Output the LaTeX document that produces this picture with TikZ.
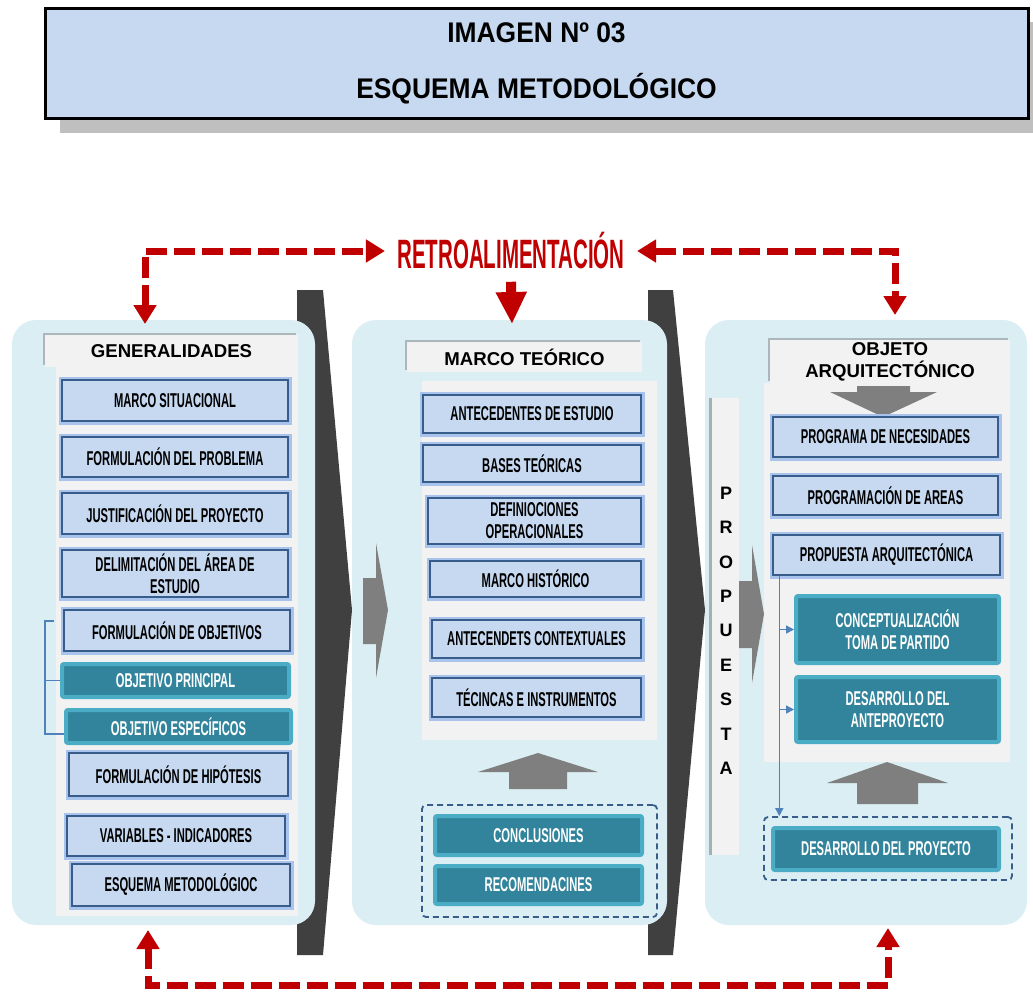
\documentclass[tikz,border=0pt]{standalone}
\usepackage{fontspec}
\setmainfont{Liberation Sans}
\newfontfamily\agencyfont[FakeStretch=0.56]{Liberation Sans}
\newfontfamily\narrowfont[FakeStretch=0.93]{Liberation Sans}
\newfontfamily\retrofont[FakeStretch=0.5]{Liberation Sans}
\usepackage{tikz}
\usetikzlibrary{positioning}
\usetikzlibrary{calc,arrows.meta,shadows}

\definecolor{panelblue}{HTML}{DAEEF3}
\definecolor{colgray}{HTML}{F2F2F2}
\definecolor{boxfill}{HTML}{C6D9F1}
\definecolor{boxline}{HTML}{385D8A}
\definecolor{glow}{HTML}{A8C4EC}
\definecolor{tealfill}{HTML}{31849B}
\definecolor{tealline}{HTML}{4BACC6}
\definecolor{retrored}{HTML}{C00000}
\definecolor{wedgegray}{HTML}{404040}
\definecolor{arrowgray}{HTML}{7F7F7F}
\definecolor{linkblue}{HTML}{4F81BD}
\definecolor{shadowgray}{HTML}{BFBFBF}

\tikzset{
  wh/.style 2 args={minimum width=#1*0.5pt, minimum height=#2*0.5pt, inner sep=0pt},
  panel/.style={fill=panelblue, rounded corners=12pt},
  heading/.style={fill=colgray, align=center,
    font=\bfseries\fontsize{9.3}{11}\selectfont,
    drop shadow={shadow xshift=-1.2pt, shadow yshift=1.2pt, fill=black!60, opacity=0.4}},
  stage/.style={draw=boxline, fill=boxfill, line width=0.7pt,
    preaction={draw=glow, line width=3.5pt}, align=center,
    font=\agencyfont\bfseries\fontsize{10}{11}\selectfont},
  result/.style={draw=tealline, fill=tealfill, line width=2pt, rounded corners=1pt,
    text=white, align=center, font=\agencyfont\bfseries\fontsize{10}{11}\selectfont},
  group/.style={draw=boxline, line width=0.9pt, dash pattern=on 3pt off 2pt, rounded corners=2pt},
  fb/.style={draw=retrored, line width=3.5pt, dash pattern=on 10.5pt off 3.5pt,
    {Triangle[width=11pt,length=9.5pt]}-{Triangle[width=11pt,length=9.5pt]}},
  fbsolid/.style={draw=retrored, line width=5pt, -{Triangle[width=14.5pt,length=16pt]}},
  link/.style={draw=linkblue, line width=0.7pt, -{Triangle[width=4pt,length=4pt]}},
  brk/.style={draw=linkblue, line width=0.7pt},
}

\begin{document}
\begin{tikzpicture}[x=0.5pt, y=-0.5pt]
	\useasboundingbox (0,0) rectangle (1033,991);

	%Title
	\fill[shadowgray] (60,22) rectangle (1033,133);
	\node[wh={983}{110}, draw=black, line width=1.5pt, fill=boxfill, align=center,
	      font=\narrowfont\bfseries\fontsize{14.2}{28}\selectfont] (title) at (536.5,63)
	      {IMAGEN Nº 03\\ESQUEMA METODOLÓGICO};

	%Wedges
	\fill[wedgegray] (297,290) -- (323,290) -- (352,610) -- (323,955) -- (297,955) -- cycle;
	\fill[wedgegray] (648,290) -- (673,290) -- (705,610) -- (673,955) -- (648,955) -- cycle;

	%Panels
	\node[panel, wh={303}{605}] (pGen) at (163.5,622.5) {};
	\node[panel, wh={315}{605}] (pMar) at (509.5,622.5) {};
	\node[panel, wh={322}{605}] (pObj) at (866,622.5) {};

	\fill[colgray] (56,367) rectangle (298,916);
	\fill[colgray] (422,381) rectangle (657,740);
	\fill[colgray] (764,383) rectangle (1010,762);

	%Headings
	\node[heading, wh={253}{32}] (hGen) at (171.5,351) {GENERALIDADES};
	\node[heading, wh={235}{30}] (hMar) at (524.5,357) {MARCO TEÓRICO};
	\node[heading, wh={240}{43}] (hObj) at (890,361.5) {OBJETO\\ARQUITECTÓNICO};

	%Gray arrows
	\fill[arrowgray] (363,578) -- (376,578) -- (376,543) -- (388,610) -- (376,678)
	  -- (376,644) -- (363,644) -- cycle;
	\fill[arrowgray] (739,581) -- (752,581) -- (752,545) -- (764,614) -- (752,683)
	  -- (752,648) -- (739,648) -- cycle;
	\fill[arrowgray] (509,789) -- (509,772) -- (478,772) -- (538,753) -- (598,772)
	  -- (567,772) -- (567,789) -- cycle;
	\fill[arrowgray] (857,804) -- (857,783) -- (827,783) -- (887,762) -- (948,783)
	  -- (918,783) -- (918,804) -- cycle;
	\fill[arrowgray] (857,386) -- (910,386) -- (910,392) -- (937,392) -- (883,417)
	  -- (830,392) -- (857,392) -- cycle;

	%Propuesta
	\node[wh={27}{457}, fill=colgray,
	      drop shadow={shadow xshift=-1.5pt, shadow yshift=0pt, fill=black!60, opacity=0.45}]
	      (prop) at (725.5,626.5) {};
	\foreach \l [count=\i] in {P,R,O,P,U,E,S,T,A}
	  \node[font=\bfseries\fontsize{9}{9}\selectfont] (prop\i) at (726,{493+34.4*(\i-1)}) {\l};

	%Generalidades
	\node[stage, wh={226}{41}] (ms) at (175,400.5) {MARCO SITUACIONAL};
	\node[stage, wh={226}{40}] (fp) at (175,457) {FORMULACIÓN DEL PROBLEMA};
	\node[stage, wh={226}{41}] (jp) at (175,513.5) {JUSTIFICACIÓN DEL PROYECTO};
	\node[stage, wh={226}{47}] (da) at (175,573.5) {DELIMITACIÓN DEL ÁREA DE\\ESTUDIO};
	\node[stage, wh={226}{41}] (fo) at (177,630.5) {FORMULACIÓN DE OBJETIVOS};
	\node[result, wh={227}{33}] (op) at (175.5,680.5) {OBJETIVO PRINCIPAL};
	\node[result, wh={225}{33}] (oe) at (178.5,726.5) {OBJETIVO ESPECÍFICOS};
	\node[stage, wh={219}{43}] (fh) at (178.5,774.5) {FORMULACIÓN DE HIPÓTESIS};
	\node[stage, wh={218}{40}] (vi) at (176,836) {VARIABLES - INDICADORES};
	\node[stage, wh={218}{42}] (em) at (181,885) {ESQUEMA METODOLÓGIOC};

	\draw[brk] ($(fo.west)+(-9,-9.5)$) -| ($(oe.west)+(-19,7.5)$) -- ($(oe.west)+(0,7.5)$);
	\draw[brk] ($(op.west)+(-15,0)$) -- (op.west);

	%Marco teorico
	\node[stage, wh={218}{38}] (ae) at (532,414) {ANTECEDENTES DE ESTUDIO};
	\node[stage, wh={218}{37}] (bt) at (532,463.5) {BASES TEÓRICAS};
	\node[stage, wh={213}{46}] (do) at (534.5,521) {DEFINIOCIONES\\OPERACIONALES};
	\node[stage, wh={211}{36}] (mh) at (535.5,579) {MARCO HISTÓRICO};
	\node[stage, wh={209}{38}] (ac) at (536.5,639) {ANTECENDETS CONTEXTUALES};
	\node[stage, wh={209}{39}] (ti) at (536.5,697.5) {TÉCINCAS E INSTRUMENTOS};

	\node[group, wh={235}{112}] (gMar) at (539.5,861) {};
	\node[result, wh={207}{39}] (cl) at (538.5,835.5) {CONCLUSIONES};
	\node[result, wh={207}{38}] (rc) at (538.5,885) {RECOMENDACINES};

	%Objeto arquitectonico
	\node[stage, wh={225}{40}] (pn) at (885.5,437) {PROGRAMA DE NECESIDADES};
	\node[stage, wh={225}{39}] (pr) at (885.5,495.5) {PROGRAMACIÓN DE AREAS};
	\node[stage, wh={227}{40}] (pa) at (886.5,555) {PROPUESTA ARQUITECTÓNICA};
	\node[result, wh={203}{67}] (ct) at (897.5,629.5) {CONCEPTUALIZACIÓN\\TOMA DE PARTIDO};
	\node[result, wh={203}{65}] (dan) at (897.5,709.5) {DESARROLLO DEL\\ANTEPROYECTO};

	\node[group, wh={248}{63}] (gObj) at (888,848.5) {};
	\node[result, wh={226}{42}] (dp) at (886,849) {DESARROLLO DEL PROYECTO};

	\coordinate (trunk) at ($(pa.south west)+(7,0)$);
	\draw[link] (trunk) -- (trunk |- gObj.north);
	\draw[link] (trunk |- ct.west) -- (ct.west);
	\draw[link] (trunk |- dan.west) -- (dan.west);

	%Retroalimentacion
	\node[text=retrored, inner sep=6pt, font=\retrofont\bfseries\fontsize{20.5}{21}\selectfont]
	      (retro) at (511,251) {RETROALIMENTACIÓN};

	\coordinate (fbGen) at (145,324);
	\coordinate (fbObj) at (895,315);
	\coordinate (fbMar) at (512,324);
	\coordinate (fbGenB) at (148,930);
	\coordinate (fbObjB) at (888,928);
	\coordinate (fbLow) at (0,985);

	\draw[fb] (fbGen) |- (retro.west);
	\draw[fb] (retro.east) -| (fbObj);
	\draw[fbsolid] (retro.south) -- (fbMar);
	\draw[fb] (fbGenB) -- (fbGenB |- fbLow) -| (fbObjB);
\end{tikzpicture}
\end{document}
